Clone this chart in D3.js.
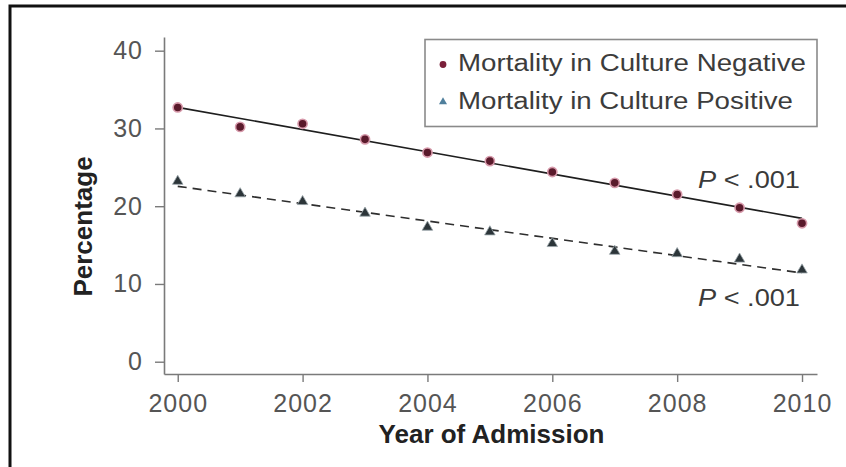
<!DOCTYPE html>
<html>
<head>
<meta charset="utf-8">
<script src="https://cdn.jsdelivr.net/npm/d3@7"></script>
<style>
  html, body { margin: 0; padding: 0; background: #fff; }
  svg { display: block; font-family: "Liberation Sans", Arial, Helvetica, sans-serif; }
</style>
</head>
<body>
<svg id="chart" width="846" height="467"></svg>
<script>
// Yearly mortality (%) by culture status, 2000-2010
const years = [2000, 2001, 2002, 2003, 2004, 2005, 2006, 2007, 2008, 2009, 2010];
const cultureNegative = [32.7, 30.2, 30.6, 28.6, 26.9, 25.8, 24.4, 23.0, 21.5, 19.8, 17.8];
const culturePositive = [23.2, 21.6, 20.6, 19.1, 17.3, 16.7, 15.2, 14.2, 13.9, 13.2, 11.8];
const yTickValues = [0, 10, 20, 30, 40];
const xTickValues = [2000, 2002, 2004, 2006, 2008, 2010];
const seriesNames = ["Mortality in Culture Negative", "Mortality in Culture Positive"];
const pLabels = ["P < .001", "P < .001"];

const svg = d3.select("#chart");

// outer frame (top and left rules)
svg.append("path")
  .attr("d", "M10,467 V6 H846")
  .attr("fill", "none")
  .attr("stroke", "#111")
  .attr("stroke-width", 3);

const x = d3.scaleLinear().domain([1999.78, 2010.24]).range([164, 817]);
const y = d3.scaleLinear().domain([-1.58, 41.76]).range([374, 37]);

const axisColor = "#7a7a7a";
const tickTextColor = "#555";

// y axis
const gy = svg.append("g")
  .attr("transform", `translate(${x.range()[0]},0)`)
  .call(d3.axisLeft(y).tickValues(yTickValues).tickSize(9).tickPadding(12).tickSizeOuter(0));

// x axis
const gx = svg.append("g")
  .attr("transform", `translate(0,${y.range()[0]})`)
  .call(d3.axisBottom(x).tickValues(xTickValues).tickFormat(d3.format("d"))
    .tickSize(8).tickPadding(12).tickSizeOuter(0));

[gx, gy].forEach(g => {
  g.select(".domain").attr("stroke", axisColor).attr("stroke-width", 1.6);
  g.selectAll(".tick line").attr("stroke", axisColor).attr("stroke-width", 1.4);
  g.selectAll(".tick text")
    .attr("fill", tickTextColor)
    .style("font-size", "25px")
    .style("letter-spacing", "1px")
    .style("font-family", "'Liberation Sans', Arial, sans-serif");
});

// axis titles
svg.append("text")
  .attr("transform", `translate(91.5,${(y.range()[0] + y.range()[1]) / 2 + 21}) rotate(-90)`)
  .attr("text-anchor", "middle")
  .attr("fill", "#222")
  .style("font-size", "26px")
  .style("font-weight", "bold")
  .text("Percentage");

svg.append("text")
  .attr("x", (x.range()[0] + x.range()[1]) / 2 + 1)
  .attr("y", 443)
  .attr("text-anchor", "middle")
  .attr("fill", "#222")
  .style("font-size", "26px")
  .style("font-weight", "bold")
  .text("Year of Admission");

// least-squares trend for each series
function linearFit(xs, ys) {
  const n = xs.length;
  const mx = d3.mean(xs), my = d3.mean(ys);
  let sxy = 0, sxx = 0;
  for (let i = 0; i < n; i++) {
    sxy += (xs[i] - mx) * (ys[i] - my);
    sxx += (xs[i] - mx) * (xs[i] - mx);
  }
  const slope = sxy / sxx;
  return t => my + slope * (t - mx);
}

const fitNeg = linearFit(years, cultureNegative);
const fitPos = linearFit(years, culturePositive);
const xEnds = d3.extent(years);

const line = d3.line().x(d => x(d[0])).y(d => y(d[1]));

svg.append("path")
  .datum(xEnds.map(t => [t, fitNeg(t)]))
  .attr("d", line)
  .attr("fill", "none")
  .attr("stroke", "#1e1e1e")
  .attr("stroke-width", 1.6);

svg.append("path")
  .datum(xEnds.map(t => [t, fitPos(t)]))
  .attr("d", line)
  .attr("fill", "none")
  .attr("stroke", "#2e2e2e")
  .attr("stroke-width", 1.6)
  .attr("stroke-dasharray", "9,6");

// culture-negative markers
svg.append("g")
  .selectAll("circle")
  .data(years.map((yr, i) => [yr, cultureNegative[i]]))
  .join("circle")
  .attr("cx", d => x(d[0]))
  .attr("cy", d => y(d[1]))
  .attr("r", 4.6)
  .attr("fill", "#5a1a2b")
  .attr("stroke", "#d79aab")
  .attr("stroke-width", 1.6);

// culture-positive markers
const tri = d3.symbol().type(d3.symbolTriangle).size(48);
svg.append("g")
  .selectAll("path")
  .data(years.map((yr, i) => [yr, culturePositive[i]]))
  .join("path")
  .attr("d", tri)
  .attr("transform", d => `translate(${x(d[0])},${y(d[1])})`)
  .attr("fill", "#2c3539")
  .attr("stroke", "#9aa6ab")
  .attr("stroke-width", 0.8);

// P-value annotations
const pStyle = (sel) => sel
  .attr("fill", "#3a3a3a")
  .style("font-size", "23px");

const pTop = svg.append("text").attr("x", 698).attr("y", 188)
  .attr("textLength", 102).attr("lengthAdjust", "spacingAndGlyphs").call(pStyle);
pTop.append("tspan").style("font-style", "italic").text(pLabels[0].slice(0, 1));
pTop.append("tspan").text(pLabels[0].slice(1));

const pBot = svg.append("text").attr("x", 698).attr("y", 306)
  .attr("textLength", 102).attr("lengthAdjust", "spacingAndGlyphs").call(pStyle);
pBot.append("tspan").style("font-style", "italic").text(pLabels[1].slice(0, 1));
pBot.append("tspan").text(pLabels[1].slice(1));

// legend
const legend = svg.append("g");
legend.append("rect")
  .attr("x", 425).attr("y", 39.5)
  .attr("width", 392).attr("height", 87)
  .attr("fill", "#fff")
  .attr("stroke", "#8a8a8a")
  .attr("stroke-width", 1.6);

legend.append("circle")
  .attr("cx", 443).attr("cy", 64.5).attr("r", 3.4)
  .attr("fill", "#7a1f3a");

legend.append("path")
  .attr("d", d3.symbol().type(d3.symbolTriangle).size(28))
  .attr("transform", "translate(443,102)")
  .attr("fill", "#4f7f9c");

const legendWidths = [348, 335];
legend.selectAll("text.lg")
  .data(seriesNames)
  .join("text")
  .attr("class", "lg")
  .attr("x", 458)
  .attr("y", (d, i) => 71 + i * 38)
  .attr("textLength", (d, i) => legendWidths[i])
  .attr("lengthAdjust", "spacingAndGlyphs")
  .attr("fill", "#3c3c3c")
  .style("font-size", "23px")
  .text(d => d);
</script>
</body>
</html>
